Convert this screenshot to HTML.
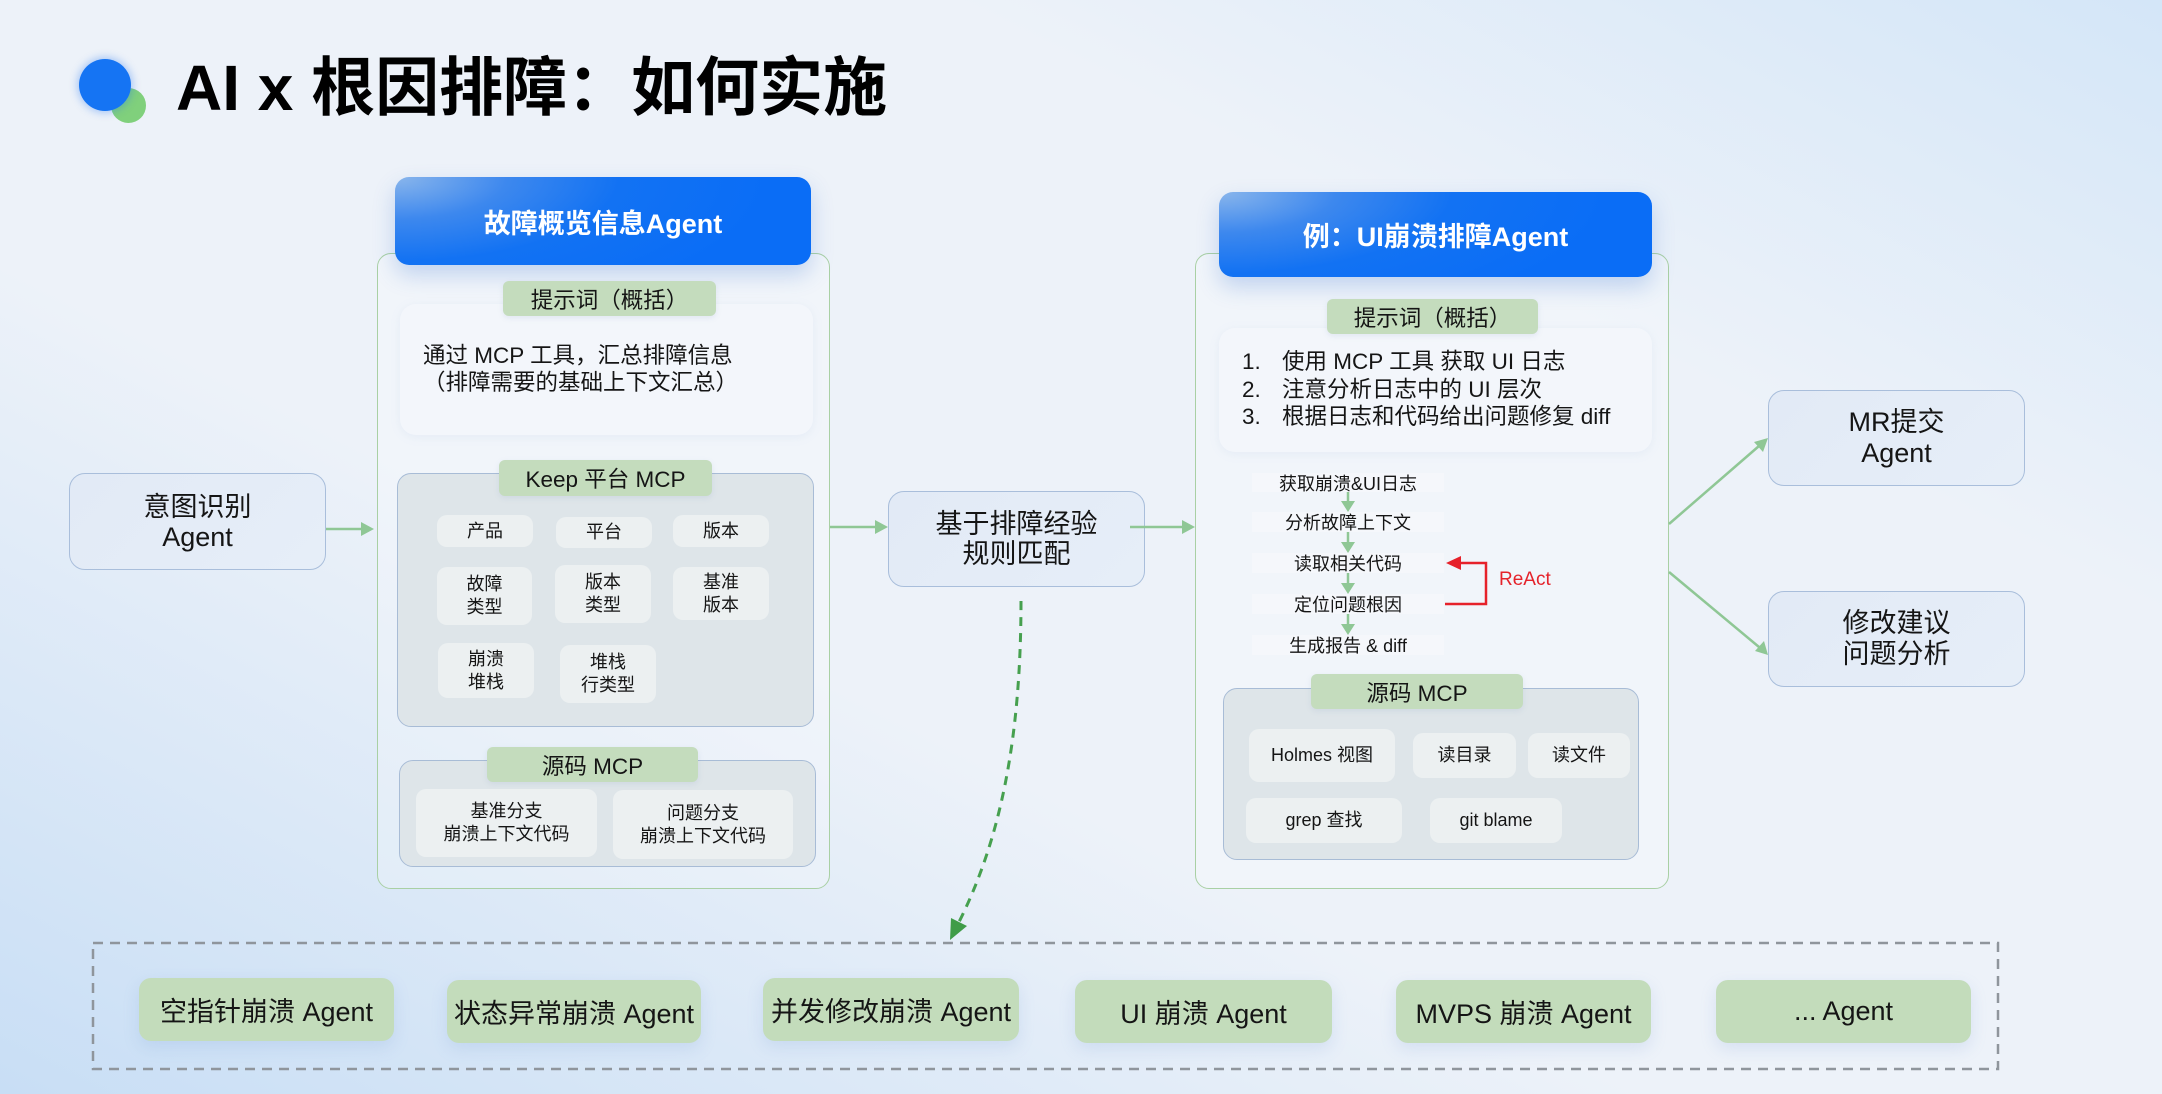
<!DOCTYPE html>
<html><head><meta charset="utf-8"><style>
html,body{margin:0;padding:0}
body{width:2162px;height:1094px;position:relative;overflow:hidden;font-family:"Liberation Sans","Noto Sans CJK SC",sans-serif;color:#151515;
background:
linear-gradient(to bottom left, rgba(212,230,248,1) 0%, rgba(212,230,248,0) 28%),
linear-gradient(to top right, rgba(200,222,245,1) 0%, rgba(200,222,245,0) 38%),
#edf2f9;}
.a{position:absolute;box-sizing:border-box}
.c{display:flex;align-items:center;justify-content:center;text-align:center}
.hdr{border-radius:14px;color:#fff;font-weight:bold;font-size:27px;
background:radial-gradient(ellipse 90% 160% at 0% 0%, #8ab6ec 0%, #3d88ee 30%, #1272f3 60%, #0a6df6 100%);
box-shadow:0 10px 22px rgba(50,110,210,0.25)}
.cont{border:1.5px solid #a9d0a4;border-radius:14px;background:rgba(255,255,255,0.22)}
.tag{background:#c4dcbd;border-radius:6px;font-size:22.5px;box-shadow:0 2px 6px rgba(120,150,190,0.15);z-index:3}
.pb{background:#f3f6fb;border-radius:16px;box-shadow:0 2px 10px rgba(150,175,210,0.12)}
.mcp{background:#dee5e9;border:1.5px solid #a8bcd6;border-radius:14px}
.it{background:#ecf0f1;border-radius:10px;font-size:18px;line-height:23px}
.bb{background:linear-gradient(135deg,#e2eaf6,#e6eef8);border:1.5px solid #a9bedb;border-radius:16px;font-size:27px;line-height:30px}
.st{background:#f5f7fb;font-size:18px}
.ag{background:#c3dcbb;border-radius:12px;font-size:27px;box-shadow:0 6px 16px rgba(110,150,210,0.18)}
</style></head><body>

<!-- title -->
<div class="a" style="left:111px;top:88px;width:35px;height:35px;border-radius:50%;background:#80d07c"></div>
<div class="a" style="left:79px;top:59px;width:52px;height:52px;border-radius:50%;background:#1574f3;box-shadow:0 0 8px 2px rgba(40,120,240,0.35)"></div>
<div class="a" style="left:176px;top:56px;font-size:64px;line-height:64px;font-weight:bold;white-space:nowrap;color:#000">AI x 根因排障：如何实施</div>

<!-- left container -->
<div class="a cont" style="left:377px;top:253px;width:453px;height:636px"></div>
<div class="a hdr c" style="left:395px;top:177px;width:416px;height:88px">故障概览信息Agent</div>
<div class="a pb" style="left:400px;top:304px;width:413px;height:131px"></div>
<div class="a tag c" style="left:503px;top:281px;width:213px;height:35px">提示词（概括）</div>
<div class="a" style="left:423px;top:342px;font-size:22.5px;line-height:27px;white-space:nowrap">通过 MCP 工具，汇总排障信息<br>（排障需要的基础上下文汇总）</div>

<div class="a mcp" style="left:397px;top:473px;width:417px;height:254px"></div>
<div class="a tag c" style="left:499px;top:460px;width:213px;height:36px">Keep 平台 MCP</div>
<div class="a it c" style="left:437px;top:515px;width:96px;height:32px">产品</div>
<div class="a it c" style="left:556px;top:517px;width:96px;height:31px">平台</div>
<div class="a it c" style="left:673px;top:515px;width:96px;height:32px">版本</div>
<div class="a it c" style="left:437px;top:567px;width:95px;height:58px">故障<br>类型</div>
<div class="a it c" style="left:555px;top:565px;width:96px;height:58px">版本<br>类型</div>
<div class="a it c" style="left:673px;top:567px;width:96px;height:53px">基准<br>版本</div>
<div class="a it c" style="left:438px;top:643px;width:96px;height:55px">崩溃<br>堆栈</div>
<div class="a it c" style="left:560px;top:645px;width:96px;height:58px">堆栈<br>行类型</div>

<div class="a mcp" style="left:399px;top:760px;width:417px;height:107px"></div>
<div class="a tag c" style="left:487px;top:747px;width:211px;height:35px">源码 MCP</div>
<div class="a it c" style="left:416px;top:789px;width:181px;height:68px">基准分支<br>崩溃上下文代码</div>
<div class="a it c" style="left:613px;top:790px;width:180px;height:69px">问题分支<br>崩溃上下文代码</div>

<!-- right container -->
<div class="a cont" style="left:1195px;top:253px;width:474px;height:636px"></div>
<div class="a hdr c" style="left:1219px;top:192px;width:433px;height:85px">例：UI崩溃排障Agent</div>
<div class="a pb" style="left:1219px;top:328px;width:433px;height:124px"></div>
<div class="a tag c" style="left:1327px;top:299px;width:211px;height:35px">提示词（概括）</div>
<div class="a" style="left:1242px;top:348px;font-size:22.5px;line-height:27.5px;white-space:nowrap">1.<br>2.<br>3.</div>
<div class="a" style="left:1282px;top:348px;font-size:22.5px;line-height:27.5px;white-space:nowrap">使用 MCP 工具 获取 UI 日志<br>注意分析日志中的 UI 层次<br>根据日志和代码给出问题修复 diff</div>

<div class="a st c" style="left:1252px;top:473px;width:192px;height:19px">获取崩溃&amp;UI日志</div>
<div class="a st c" style="left:1252px;top:512px;width:192px;height:20px">分析故障上下文</div>
<div class="a st c" style="left:1252px;top:553px;width:192px;height:20px">读取相关代码</div>
<div class="a st c" style="left:1252px;top:594px;width:192px;height:20px">定位问题根因</div>
<div class="a st c" style="left:1252px;top:635px;width:192px;height:20px">生成报告 &amp; diff</div>
<div class="a" style="left:1499px;top:569px;font-size:19px;line-height:22px;color:#e5232b">ReAct</div>

<div class="a mcp" style="left:1223px;top:688px;width:416px;height:172px"></div>
<div class="a tag c" style="left:1311px;top:674px;width:212px;height:35px">源码 MCP</div>
<div class="a it c" style="left:1249px;top:729px;width:146px;height:53px">Holmes 视图</div>
<div class="a it c" style="left:1413px;top:733px;width:103px;height:45px">读目录</div>
<div class="a it c" style="left:1528px;top:733px;width:102px;height:45px">读文件</div>
<div class="a it c" style="left:1246px;top:798px;width:156px;height:45px">grep 查找</div>
<div class="a it c" style="left:1430px;top:798px;width:132px;height:45px">git blame</div>

<!-- blue boxes -->
<div class="a bb c" style="left:69px;top:473px;width:257px;height:97px">意图识别<br>Agent</div>
<div class="a bb c" style="left:888px;top:491px;width:257px;height:96px">基于排障经验<br>规则匹配</div>
<div class="a bb c" style="left:1768px;top:390px;width:257px;height:96px;line-height:31px">MR提交<br>Agent</div>
<div class="a bb c" style="left:1768px;top:591px;width:257px;height:96px;line-height:31px">修改建议<br>问题分析</div>

<!-- bottom agents -->
<div class="a ag c" style="left:139px;top:978px;width:255px;height:63px">空指针崩溃 Agent</div>
<div class="a ag c" style="left:447px;top:980px;width:254px;height:63px">状态异常崩溃 Agent</div>
<div class="a ag c" style="left:763px;top:978px;width:256px;height:63px">并发修改崩溃 Agent</div>
<div class="a ag c" style="left:1075px;top:980px;width:257px;height:63px">UI 崩溃 Agent</div>
<div class="a ag c" style="left:1396px;top:980px;width:255px;height:63px">MVPS 崩溃 Agent</div>
<div class="a ag c" style="left:1716px;top:980px;width:255px;height:63px">... Agent</div>

<svg class="a" style="left:0;top:0;z-index:5" width="2162" height="1094" viewBox="0 0 2162 1094">
<g stroke="#8fc795" stroke-width="2.5" fill="none">
<line x1="326" y1="529" x2="362" y2="529"/>
<line x1="830" y1="527" x2="876" y2="527"/>
<line x1="1130" y1="527" x2="1183" y2="527"/>
<line x1="1669" y1="524" x2="1759" y2="446"/>
<line x1="1669" y1="572" x2="1759" y2="647"/>
<line x1="1348" y1="492" x2="1348" y2="503"/>
<line x1="1348" y1="532" x2="1348" y2="544"/>
<line x1="1348" y1="573" x2="1348" y2="585"/>
<line x1="1348" y1="614" x2="1348" y2="626"/>
</g>
<g fill="#8fc795">
<polygon points="374,529 361,522 361,536"/>
<polygon points="888,527 875,520 875,534"/>
<polygon points="1195,527 1182,520 1182,534"/>
<polygon points="1768,438 1754,442 1763,452"/>
<polygon points="1768,655 1764,641 1755,651"/>
<polygon points="1348,512 1341,501 1355,501"/>
<polygon points="1348,553 1341,542 1355,542"/>
<polygon points="1348,594 1341,583 1355,583"/>
<polygon points="1348,635 1341,624 1355,624"/>
</g>
<path d="M1445,604 H1486 V563 H1458" stroke="#e6212a" stroke-width="2.5" fill="none"/>
<polygon points="1446,563 1461,556 1461,570" fill="#e6212a"/>
<path d="M1021,601 C1021,740 1000,840 959,922" stroke="#46a04f" stroke-width="3" fill="none" stroke-dasharray="9 7"/>
<polygon points="950,940 967,926 951,918" fill="#3f9c48"/>
<rect x="93" y="943" width="1905" height="126" fill="none" stroke="#8f959c" stroke-width="2.5" stroke-dasharray="10 7"/>
</svg>
</body></html>
